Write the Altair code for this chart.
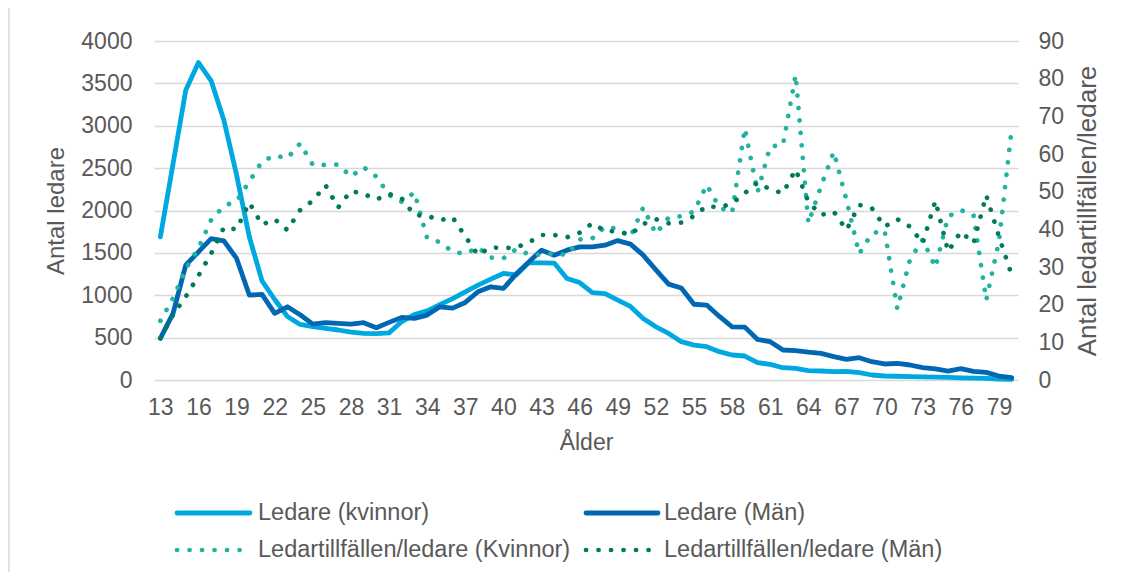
import altair as alt
import pandas as pd

ages = list(range(13, 81))

ledare_kvinnor = [1690, 2550, 3420, 3745, 3530, 3065, 2420, 1690, 1170, 950,
                  750, 655, 630, 610, 590, 565, 550, 548, 556, 690,
                  772, 815, 890, 960, 1040, 1120, 1190, 1257, 1240, 1383,
                  1383, 1380, 1198, 1150, 1030, 1020, 943, 868, 727, 628,
                  550, 452, 412, 393, 334, 295, 283, 204, 185, 145,
                  137, 110, 106, 98, 102, 86, 59, 47, 44, 40,
                  38, 34, 30, 25, 22, 18, 12, 8]

ledare_man = [491, 786, 1355, 1512, 1669, 1642, 1434, 1002, 1010, 786,
              864, 770, 660, 676, 668, 660, 676, 617, 680, 738,
              727, 766, 864, 848, 915, 1041, 1100, 1080, 1250, 1394,
              1532, 1473, 1532, 1571, 1571, 1591, 1645, 1603, 1473, 1300,
              1131, 1085, 894, 884, 750, 628, 624, 479, 452, 354,
              346, 328, 314, 275, 244, 263, 216, 189, 196, 177,
              145, 130, 106, 134, 102, 90, 47, 27]

tillf_kvinnor = [15.7, 21.7, 29.5, 35.0, 42.5, 46.2, 47.5, 52.7, 58.0, 59.6,
                 58.9, 62.8, 57.1, 57.1, 57.2, 54.0, 56.5, 54.0, 49.1, 47.3,
                 49.8, 37.6, 36.6, 34.1, 33.5, 35.2, 32.5, 32.3, 34.7, 33.4,
                 33.2, 33.6, 33.2, 37.3, 37.6, 40.7, 40.1, 38.0, 45.8, 38.8,
                 43.1, 43.5, 44.7, 51.8, 45.8, 44.4, 66.8, 49.8, 62.0, 62.4,
                 81.0, 41.6, 51.5, 60.6, 47.8, 33.5, 38.9, 39.8, 18.9, 32.0,
                 37.3, 29.9, 43.4, 45.1, 43.8, 21.2, 36.8, 66.6]

tillf_man = [11.1, 17.3, 22.1, 27.7, 33.6, 40.5, 40.0, 47.1, 41.2, 42.7,
             39.8, 45.1, 47.6, 51.7, 45.8, 50.2, 49.4, 47.9, 49.4, 48.2,
             43.8, 43.6, 42.4, 43.2, 38.1, 33.2, 35.2, 35.0, 35.2, 36.5,
             38.5, 38.5, 37.9, 39.1, 41.6, 39.6, 39.4, 38.6, 41.4, 42.7,
             41.6, 41.8, 43.5, 46.2, 45.8, 46.9, 49.6, 52.4, 50.6, 49.6,
             55.9, 47.3, 43.8, 44.7, 39.8, 46.5, 45.6, 40.7, 42.7, 40.7,
             36.3, 47.6, 34.1, 39.4, 36.3, 49.1, 38.1, 27.9]

series_names = ["Ledare (kvinnor)", "Ledare (Män)",
                "Ledartillfällen/ledare (Kvinnor)", "Ledartillfällen/ledare (Män)"]
series_colors = ["#00A8E1", "#0068B2", "#1FB3A0", "#007A5A"]

x_ticks = list(range(13, 80, 3))
left_ticks = list(range(0, 4001, 500))
right_ticks = list(range(0, 91, 10))

df = pd.DataFrame({
    "age": ages,
    "kv": ledare_kvinnor,
    "man": ledare_man,
    "tkv": tillf_kvinnor,
    "tman": tillf_man,
})

FONT = "Liberation Sans"
TXT = "#595959"
DOT = [0.1, 12.4]

x_enc = alt.X(
    "age:Q",
    scale=alt.Scale(domain=[12.5, 80.5], nice=False, zero=False),
    axis=alt.Axis(values=x_ticks, title="Ålder", grid=False, ticks=False, domain=False,
                  labelFontSize=23, labelColor=TXT, labelPadding=16, labelFlush=False,
                  titleFontSize=23, titleColor=TXT, titleFontWeight="normal", titlePadding=12,
                  labelFont=FONT, titleFont=FONT),
)

left_scale = alt.Scale(domain=[0, 4000], nice=False)
right_scale = alt.Scale(domain=[0, 90], nice=False)

left_axis = alt.Axis(values=left_ticks, format="d", title="Antal ledare", grid=True, gridColor="#D9D9D9",
                     gridWidth=1.5, ticks=False, domain=False, labelFontSize=23,
                     labelColor=TXT, labelPadding=22, titleFontSize=24, titleColor=TXT,
                     titleFontWeight="normal", titlePadding=12, labelFont=FONT, titleFont=FONT)
right_axis = alt.Axis(orient="right", values=right_ticks, format="d", title="Antal ledartillfällen/ledare",
                      grid=False, ticks=False, domain=False, labelFontSize=23, labelColor=TXT,
                      labelPadding=20, titleFontSize=26, titleColor=TXT, titleFontWeight="normal",
                      titleAngle=270, titleBaseline="top", titlePadding=11, labelFont=FONT, titleFont=FONT)

base = alt.Chart(df)

l_kv = base.mark_line(color=series_colors[0], strokeWidth=4.8, strokeCap="round", strokeJoin="round").encode(
    x=x_enc, y=alt.Y("kv:Q", scale=left_scale, axis=left_axis))
l_man = base.mark_line(color=series_colors[1], strokeWidth=4.8, strokeCap="round", strokeJoin="round").encode(
    x=x_enc, y=alt.Y("man:Q", scale=left_scale, axis=left_axis))
r_kv = base.mark_line(color=series_colors[2], strokeWidth=4.7, strokeCap="round", strokeDash=DOT).encode(
    x=x_enc, y=alt.Y("tkv:Q", scale=right_scale, axis=right_axis))
r_man = base.mark_line(color=series_colors[3], strokeWidth=4.7, strokeCap="round", strokeDash=DOT).encode(
    x=x_enc, y=alt.Y("tman:Q", scale=right_scale, axis=right_axis))

# legend (two columns, two rows) below the plot
leg_pos = [(23, 96, 104, 472), (432, 504, 510, 472), (23, 96, 104, 509), (432, 504, 510, 509)]
legend_layers = []
for i, name in enumerate(series_names):
    x0, x1, xt, yy = leg_pos[i]
    ldf = pd.DataFrame({"label": [name]})
    if i < 2:
        sym = alt.Chart(ldf).mark_rule(color=series_colors[i], strokeWidth=4.8, strokeCap="round")
    else:
        sym = alt.Chart(ldf).mark_rule(color=series_colors[i], strokeWidth=4.7, strokeCap="round",
                                        strokeDash=DOT)
    sym = sym.encode(x=alt.value(x0), x2=alt.value(x1), y=alt.value(yy))
    txt = alt.Chart(ldf).mark_text(align="left", baseline="middle", fontSize=23.5, font=FONT,
                                   color=TXT).encode(
        x=alt.value(xt), y=alt.value(yy), text="label:N")
    legend_layers += [sym, txt]

border = alt.Chart(pd.DataFrame({"k": [0]})).mark_rule(color="#D9D9D9", strokeWidth=1.5).encode(
    x=alt.value(-145), y=alt.value(-33), y2=alt.value(531))

left = alt.layer(l_kv, l_man, *legend_layers, border)
right = alt.layer(r_kv, r_man)

chart = alt.layer(left, right).resolve_scale(y="independent").properties(
    width=864, height=339,
    autosize=alt.AutoSizeParams(type="none"),
    padding={"left": 146, "top": 33, "right": 97, "bottom": 192},
    background="white",
).configure_view(stroke=None)

chart.save("out.html", embed_options={"renderer": "svg", "actions": False})
